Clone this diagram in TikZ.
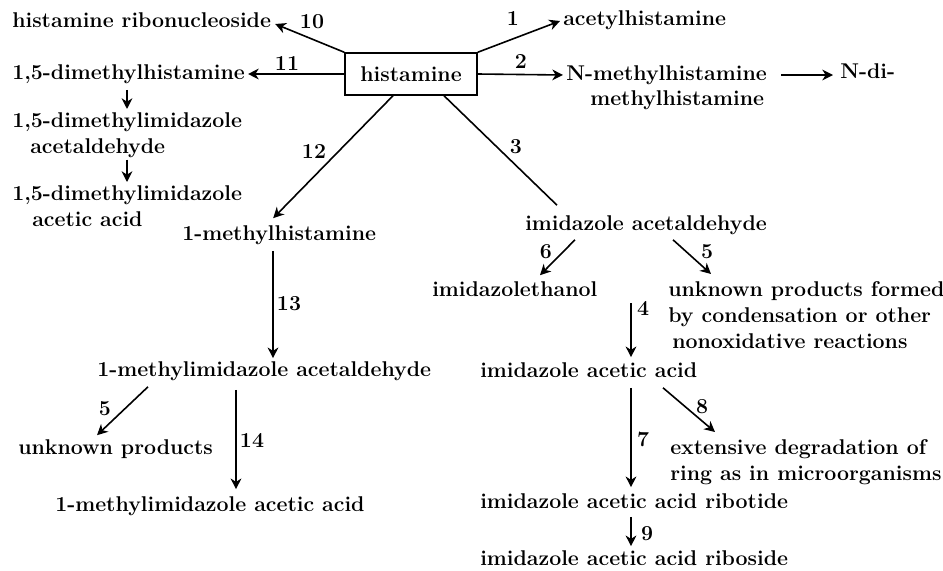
\documentclass[tikz,border=0pt]{standalone}
\usetikzlibrary{arrows.meta,calc}
\begin{document}
\begin{tikzpicture}[x=0.75pt,y=-0.75pt,
  txt/.style={font=\fontsize{16}{19.5}\bfseries\selectfont, inner sep=0pt, text height=11.3pt, text depth=3pt, anchor=west},
  mtxt/.style={font=\fontsize{16}{19.5}\bfseries\selectfont, inner sep=0pt, align=left, anchor=north west},
  num/.style={font=\fontsize{16}{18}\bfseries\selectfont, inner sep=0pt},
  arr/.style={-{Stealth[length=8pt,width=8pt,inset=2.5pt]}, line width=1.2pt},
  ln/.style={line width=1.2pt},
  box/.style={draw, line width=1.1pt, minimum width=99pt, minimum height=31.5pt, font=\fontsize{16}{19.5}\bfseries\selectfont, inner sep=0pt}]
\useasboundingbox (0,0) rectangle (943,571);
% nodes
\node[box] (his) at (411,74) {histamine};
\node[txt] (rib) at (12,22) {histamine ribonucleoside};
\node[txt] (acet) at (563,20) {acetylhistamine};
\node[txt] (dmh) at (12,74) {1,5-dimethylhistamine};
\node[txt] (nmh) at (566,75) {N-methylhistamine};
\node[txt] (ndi) at (840,73) {N-di-};
\node[txt] (ndi2) at (590,100) {methylhistamine};
\node[mtxt] (dmia) at (12,112) {1,5-dimethylimidazole\\\hspace*{13.5pt}acetaldehyde};
\node[mtxt] (dmiaa) at (12,185) {1,5-dimethylimidazole\\\hspace*{15pt}acetic acid};
\node[txt] (mh) at (182,235) {1-methylhistamine};
\node[txt] (ia) at (525,225) {imidazole acetaldehyde};
\node[txt] (ie) at (432,291) {imidazolethanol};
\node[mtxt] (upf) at (668,281) {unknown products formed\\by condensation or other\\\hspace*{3pt}nonoxidative reactions};
\node[txt] (iaa) at (480,372) {imidazole acetic acid};
\node[txt] (mia) at (97,371) {1-methylimidazole acetaldehyde};
\node[txt] (up) at (18,449) {unknown products};
\node[mtxt] (ext) at (670,439) {extensive degradation of\\ring as in microorganisms};
\node[txt] (miaa) at (55,506) {1-methylimidazole acetic acid};
\node[txt] (rbt) at (480,503) {imidazole acetic acid ribotide};
\node[txt] (rbs) at (480,560) {imidazole acetic acid riboside};
% labels
\node[num] (n10) at (312,22) {10};
\node[num] (n1) at (513,19) {1};
\node[num] (n11) at (287,64) {11};
\node[num] (n2) at (521,62) {2};
\node[num] (n12) at (314,152) {12};
\node[num] (n3) at (516,147) {3};
\node[num] (n6) at (546,252) {6};
\node[num] (n5a) at (707,252) {5};
\node[num] (n4) at (643,308) {4};
\node[num] (n13) at (289,304) {13};
\node[num] (n5b) at (105,409) {5};
\node[num] (n14) at (252,440) {14};
\node[num] (n8) at (702,407) {8};
\node[num] (n7) at (643,439) {7};
\node[num] (n9) at (647,534) {9};
% helper coordinates
\coordinate (xa) at (127,0);
\coordinate (c12) at (393,0);
\coordinate (c3) at (444,0);
\coordinate (c13) at (273,0);
\coordinate (c14) at (236,0);
\coordinate (c4) at (631,303);
% connectors
\draw[arr] (his.north west) -- ($(rib.east)+(4,2)$);
\draw[arr] (his.north east) -- ($(acet.west)+(-3,1)$);
\draw[arr] (his.west) -- ($(dmh.east)+(3,0)$);
\draw[arr] (his.east) -- ($(nmh.west)+(-3,0)$);
\draw[arr] ($(nmh.east)+(14,0)$) -- ($(ndi.west)+(-7,2)$);
\draw[arr] ($(dmh.south -| xa)+(0,6)$) -- ($(dmia.north -| xa)+(0,-3)$);
\draw[arr] ($(dmia.south -| xa)+(0,2)$) -- ($(dmiaa.north -| xa)+(0,-3)$);
\draw[arr] (his.south -| c12) -- ($(mh.north)+(-6,-7)$);
\draw[ln] (his.south -| c3) -- ($(ia.north west)+(32,-10)$);
\draw[arr] ($(mh.south -| c13)+(0,6)$) -- ($(mia.north -| c13)+(0,-3)$);
\draw[arr] ($(mia.south west)+(51,6)$) -- ($(up.north west)+(79,-4)$);
\draw[arr] ($(mia.south -| c14)+(0,9)$) -- ($(miaa.north -| c14)+(0,-7)$);
\draw[arr] ($(ia.south west)+(50,5)$) -- ($(ie.north west)+(108,-6)$);
\draw[arr] ($(ia.south west)+(148,5)$) -- ($(upf.north west)+(43,-7)$);
\draw[arr] (c4) -- ($(iaa.north -| c4)+(0,-5)$);
\draw[arr] ($(iaa.south -| c4)+(0,6)$) -- ($(rbt.north -| c4)+(0,-6)$);
\draw[arr] ($(iaa.south west)+(183,6)$) -- ($(ext.north west)+(45,-7)$);
\draw[arr] ($(rbt.south -| c4)+(0,4)$) -- ($(rbs.north -| c4)+(0,-4)$);
\end{tikzpicture}
\end{document}
